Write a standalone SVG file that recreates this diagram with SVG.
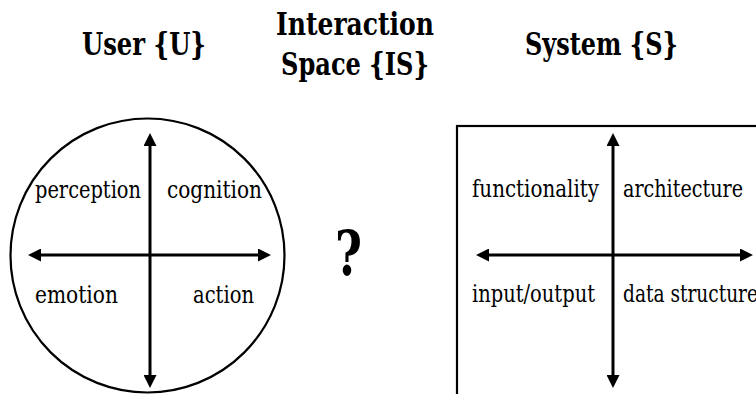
<svg xmlns="http://www.w3.org/2000/svg" width="756" height="394" viewBox="0 0 756 394">
  <style>
    text { font-family: 'DejaVu Serif', 'Liberation Serif', serif; fill: #000; }
    .title { font-weight: bold; font-size: 31px; }
    .label { font-size: 24px; }
    .q { font-weight: bold; font-size: 62px; }
    .shape { fill: #fff; stroke: #000; stroke-width: 2.2; }
    .axis { stroke: #000; stroke-width: 3; fill: none; marker-start: url(#ah); marker-end: url(#ah); }
  </style>
  <defs>
    <marker id="ah" markerUnits="userSpaceOnUse" markerWidth="14" markerHeight="13" refX="5" refY="6.5" orient="auto-start-reverse" viewBox="0 0 14 13">
      <path d="M0,0 L13,6.5 L0,13 Z" fill="#000"/>
    </marker>
  </defs>
  <rect width="756" height="394" fill="#fff"/>

  <g id="titles">
    <text class="title" x="82" y="55" textLength="124" lengthAdjust="spacingAndGlyphs">User {U}</text>
    <text class="title" x="276" y="35" textLength="158" lengthAdjust="spacingAndGlyphs">Interaction</text>
    <text class="title" x="281" y="75" textLength="148" lengthAdjust="spacingAndGlyphs">Space {IS}</text>
    <text class="title" x="525" y="55" textLength="153" lengthAdjust="spacingAndGlyphs">System {S}</text>
  </g>

  <g id="user">
    <circle class="shape" cx="147.5" cy="255.5" r="137"/>
    <text class="label" x="35" y="198" textLength="106" lengthAdjust="spacingAndGlyphs">perception</text>
    <text class="label" x="167" y="198" textLength="95" lengthAdjust="spacingAndGlyphs">cognition</text>
    <text class="label" x="35" y="303" textLength="83" lengthAdjust="spacingAndGlyphs">emotion</text>
    <text class="label" x="193" y="303" textLength="61" lengthAdjust="spacingAndGlyphs">action</text>
  </g>

  <g id="interaction">
    <text class="q" x="335" y="275" textLength="27" lengthAdjust="spacingAndGlyphs">?</text>
  </g>

  <g id="system">
    <rect class="shape" x="457" y="126" width="330" height="300"/>
    <text class="label" x="472" y="197" textLength="127" lengthAdjust="spacingAndGlyphs">functionality</text>
    <text class="label" x="623" y="197" textLength="120" lengthAdjust="spacingAndGlyphs">architecture</text>
    <text class="label" x="472" y="302" textLength="123" lengthAdjust="spacingAndGlyphs">input/output</text>
    <text class="label" x="623" y="302" textLength="135" lengthAdjust="spacingAndGlyphs">data structure</text>
  </g>

  <g id="connectors">
    <line class="axis" x1="150" y1="141" x2="150" y2="380"/>
    <line class="axis" x1="36" y1="255" x2="263" y2="255"/>
    <line class="axis" x1="613" y1="141" x2="613" y2="380"/>
    <line class="axis" x1="484" y1="255" x2="745" y2="255"/>
  </g>
</svg>
